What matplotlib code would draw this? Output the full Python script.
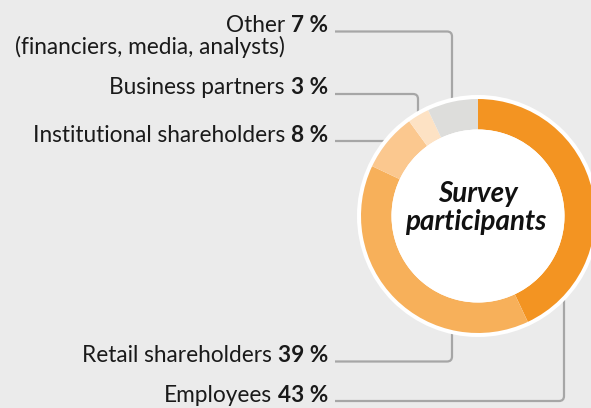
import matplotlib
matplotlib.use("Agg")
import matplotlib.pyplot as plt
from matplotlib.patches import Circle, PathPatch
from matplotlib.path import Path

categories = ["Employees", "Retail shareholders", "Institutional shareholders",
              "Business partners", "Other"]
values = [43, 39, 8, 3, 7]
pct_labels = ["43 %", "39 %", "8 %", "3 %", "7 %"]
colors = ["#F39422", "#F7B05A", "#FBC88F", "#FDE2C4", "#DDDDDB"]
center_title = ["Survey", "participants"]
other_sub = "(financiers, media, analysts)"

W, H = 591, 408
BG = "#EBEBEB"
LINE = "#A6A6A6"
FONT = "Lato"
FS = 16.3

fig = plt.figure(figsize=(W / 100, H / 100), dpi=100, facecolor=BG)
ax = fig.add_axes([0, 0, 1, 1])
ax.set_facecolor(BG)

cx, cy = 478, H - 216
R, Rin = 117, 86.5

def Y(p):
    return H - p

def leader(y, xc=None, yend=None, xend=None, r=5):
    y = Y(y)
    if xc is None:
        ax.plot([335, xend], [y, y], color=LINE, lw=1.6, zorder=1, solid_capstyle="butt")
        return
    ye = Y(yend)
    s = 1 if ye > y else -1
    verts = [(335, y), (xc - r, y), (xc, y), (xc, y + s * r), (xc, ye)]
    codes = [Path.MOVETO, Path.LINETO, Path.CURVE3, Path.CURVE3, Path.LINETO]
    ax.add_patch(PathPatch(Path(verts, codes), fill=False, edgecolor=LINE, lw=1.6, zorder=1))

line_y = {"Other": 31.5, "Business partners": 94, "Institutional shareholders": 141,
          "Retail shareholders": 361.5, "Employees": 401}
leader(line_y["Other"], 452, 100)
leader(line_y["Business partners"], 418, 118)
leader(line_y["Institutional shareholders"], xend=385)
leader(line_y["Retail shareholders"], 452, 330)
leader(line_y["Employees"], 564, 300)

ax.add_patch(Circle((cx, cy), R + 4, color="white", zorder=2, lw=0))
ax.pie(values, colors=colors, startangle=90, counterclock=False, center=(cx, cy),
       radius=R, wedgeprops=dict(width=R - Rin, linewidth=0, zorder=3))
for w in ax.patches[-len(values):]:
    w.set_zorder(3)
ax.add_patch(Circle((cx, cy), Rin, color="white", zorder=4, lw=0))
for txt, bx, by in zip(center_title, [478, 476], [202, 230]):
    ax.text(bx, Y(by), txt, ha="center", va="baseline", fontsize=20,
            fontweight="bold", fontstyle="italic", family=FONT, color="#111111",
            zorder=5)

ax.set_xlim(0, W)
ax.set_ylim(0, H)
ax.set_aspect("auto")
ax.axis("off")

fig.canvas.draw()
renderer = fig.canvas.get_renderer()
inv = ax.transData.inverted()

for name, pct in zip(categories, pct_labels):
    y = Y(line_y[name] + 0.5)
    t = ax.text(328, y, pct, ha="right", va="baseline", fontsize=FS, fontweight="bold",
                family=FONT, color="#1A1A1A")
    bb = t.get_window_extent(renderer)
    x0 = inv.transform((bb.x0, bb.y0))[0]
    ax.text(x0 - 6, y, name, ha="right", va="baseline", fontsize=FS, family=FONT,
            color="#1A1A1A")
ax.text(285, Y(54), other_sub, ha="right", va="baseline", fontsize=FS, family=FONT,
        color="#1A1A1A")

fig.savefig("out.png", dpi=100, facecolor=BG)
